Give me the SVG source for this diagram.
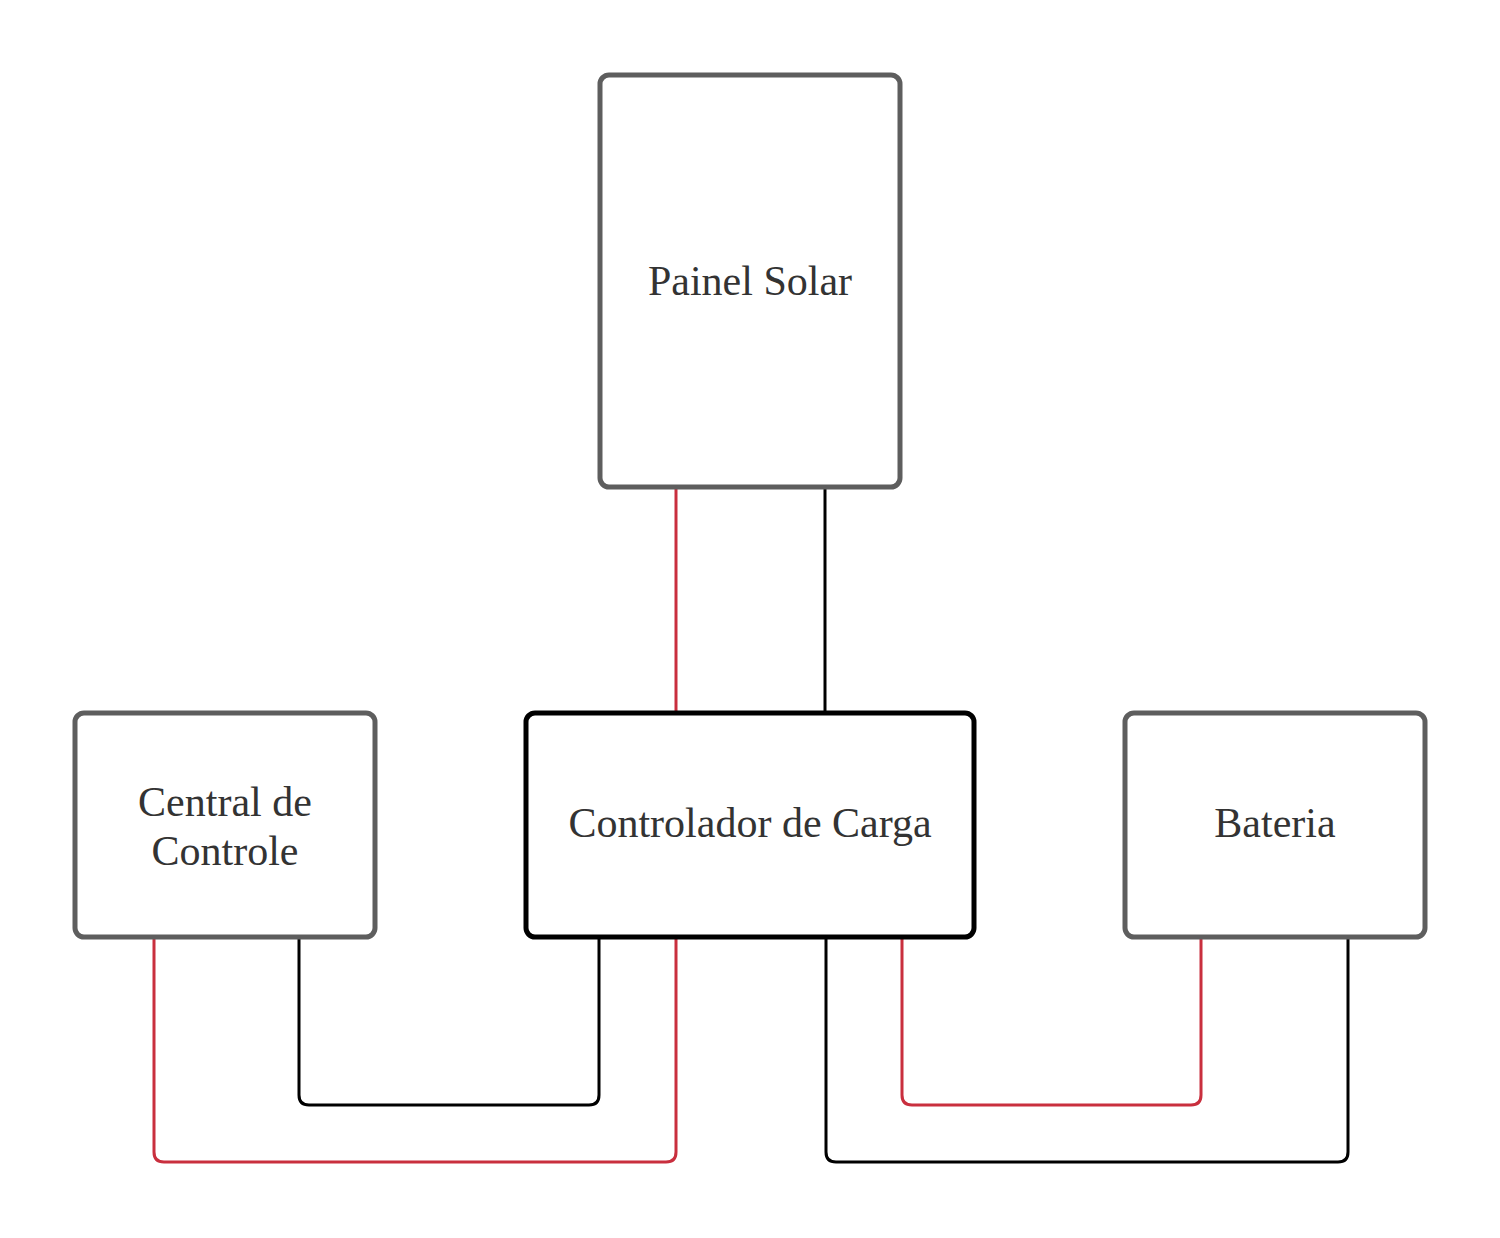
<svg xmlns="http://www.w3.org/2000/svg" width="1500" height="1238" viewBox="0 0 1500 1238">
<style>
.box{fill:#fff;stroke:#5e5e5e;stroke-width:5}
.main{fill:#fff;stroke:#000;stroke-width:5}
.lbl{font-family:"Liberation Serif","DejaVu Serif",serif;font-size:42px;fill:#333;text-anchor:middle}
.red{fill:none;stroke:#c92f3e;stroke-width:3;stroke-linejoin:round}
.blk{fill:none;stroke:#000;stroke-width:3;stroke-linejoin:round}
</style>
<rect width="1500" height="1238" fill="#fff"/>
<g id="connectors">
<path class="red" d="M676,488 V712"/>
<path class="blk" d="M825,488 V712"/>
<path class="red" d="M154,938 V1152 Q154,1162 164,1162 H666 Q676,1162 676,1152 V938"/>
<path class="blk" d="M299,938 V1095 Q299,1105 309,1105 H589 Q599,1105 599,1095 V938"/>
<path class="red" d="M902,938 V1095 Q902,1105 912,1105 H1191 Q1201,1105 1201,1095 V938"/>
<path class="blk" d="M826,938 V1152 Q826,1162 836,1162 H1338 Q1348,1162 1348,1152 V938"/>
</g>
<g id="painel-solar">
<rect class="box" x="600" y="75" width="300" height="412" rx="9"/>
<text class="lbl" x="750" y="295">Painel Solar</text>
</g>
<g id="central-de-controle">
<rect class="box" x="75" y="713" width="300" height="224" rx="9"/>
<text class="lbl" x="225" y="816">Central de</text>
<text class="lbl" x="225" y="865">Controle</text>
</g>
<g id="controlador-de-carga">
<rect class="main" x="526" y="713" width="448" height="224" rx="9"/>
<text class="lbl" x="750" y="837">Controlador de Carga</text>
</g>
<g id="bateria">
<rect class="box" x="1125" y="713" width="300" height="224" rx="9"/>
<text class="lbl" x="1275" y="837">Bateria</text>
</g>
</svg>
